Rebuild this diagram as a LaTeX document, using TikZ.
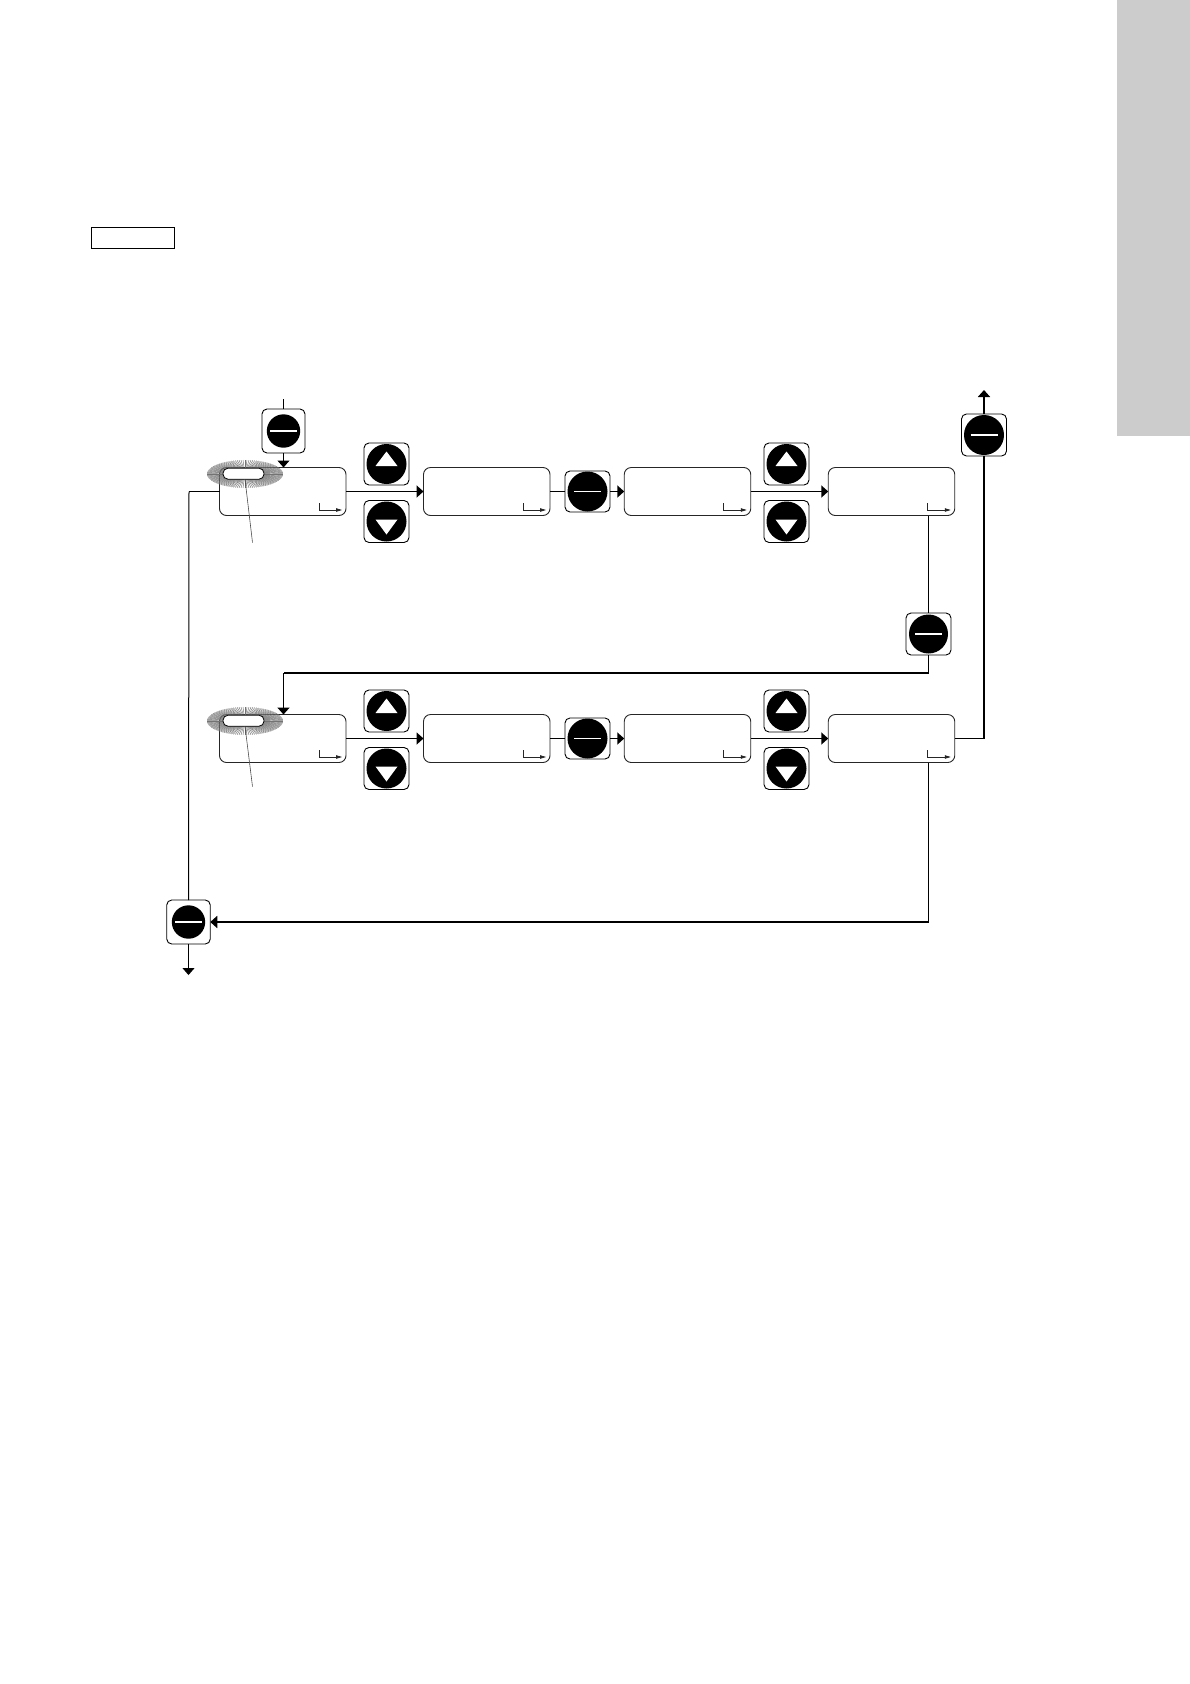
\documentclass[tikz,border=0pt]{standalone}
\usetikzlibrary{arrows.meta}
\begin{document}
\begin{tikzpicture}[x=1pt,y=-1pt,
  tip/.style={-{Triangle[length=7pt,width=12pt]}},
  thk/.style={line width=1.8pt},
  thn/.style={line width=1pt},
  disp/.style={draw=black!85, line width=0.9pt, rounded corners=7pt,
    minimum width=126.5pt, minimum height=48pt, inner sep=0pt, outer sep=0pt,
    path picture={\draw[sharp corners, line width=0.8pt, -{Triangle[length=6pt,width=3.5pt]}]
      ([shift={(-27,-12.5)}]path picture bounding box.south east) --
      ([shift={(-27,-5.5)}]path picture bounding box.south east) --
      ([shift={(-4,-5.5)}]path picture bounding box.south east);}},
  btnbox/.style={draw, line width=0.9pt, rounded corners=5pt,
    minimum width=45pt, minimum height=42pt, inner sep=0pt, outer sep=0pt},
  upbtn/.style={btnbox, path picture={
    \fill[black] (path picture bounding box.center) circle (20pt);
    \fill[white, sharp corners] ([shift={(0,-12.5)}]path picture bounding box.center) --
      ([shift={(-11,2)}]path picture bounding box.center) --
      ([shift={(11,2)}]path picture bounding box.center) -- cycle;}},
  dnbtn/.style={btnbox, path picture={
    \fill[black] (path picture bounding box.center) circle (20pt);
    \fill[white, sharp corners] ([shift={(0,13)}]path picture bounding box.center) --
      ([shift={(-11,-2)}]path picture bounding box.center) --
      ([shift={(11,-2)}]path picture bounding box.center) -- cycle;}},
  minusbtn/.style={btnbox, path picture={
    \fill[black] (path picture bounding box.center) circle (#1);
    \draw[white, line width=1.4pt] ([xshift=-13.5pt]path picture bounding box.center) --
      ([xshift=13.5pt]path picture bounding box.center);}},
  minusbtn/.default=20pt,
  blinkrect/.style={draw, fill=white, line width=0.8pt, rounded corners=5pt,
    minimum width=41pt, minimum height=11pt, inner sep=0pt, outer sep=0pt},
  ray/.style={draw=black!55, line width=0.45pt},
  leader/.style={draw=black!70, line width=0.6pt}
]
\useasboundingbox (0,0) rectangle (1190,1684);
% side tab
\fill[gray!40] (1117,0) rectangle (1190,436);
% small label frame
\node[draw, line width=1.2pt, minimum width=83pt, minimum height=21pt, inner sep=0pt] (lbl) at (132.75,238) {};

% display boxes
\node[disp] (b1) at (282.75,491.5) {};
\node[disp] (b2) at (486.75,491.5) {};
\node[disp] (b3) at (687.5,491.5) {};
\node[disp] (b4) at (891.5,491.5) {};
\node[disp] (b5) at (282.75,738.5) {};
\node[disp] (b6) at (486.75,738.5) {};
\node[disp] (b7) at (687.5,738.5) {};
\node[disp] (b8) at (891.5,738.5) {};

% up/down buttons
\node[upbtn] (u1) at (386.5,464) {};
\node[dnbtn] (d1) at (386.5,521.5) {};
\node[upbtn] (u2) at (786.5,464) {};
\node[dnbtn] (d2) at (786.5,521.5) {};
\node[upbtn] (u3) at (386.5,711) {};
\node[dnbtn] (d3) at (386.5,768.5) {};
\node[upbtn] (u4) at (786.5,711) {};
\node[dnbtn] (d4) at (786.5,768.5) {};

% minus buttons
\node[minusbtn, minimum height=41pt] (m1) at (587.5,491.5) {};
\node[minusbtn, minimum height=41pt] (m2) at (587.5,738.5) {};
\node[minusbtn=16.7pt, minimum width=43pt, minimum height=44pt] (bt0) at (283.5,431) {};
\node[minusbtn=19.5pt] (bt5) at (928.5,634) {};
\node[minusbtn] (bt4) at (984,435) {};
\node[minusbtn=16.7pt, minimum width=43.5pt, minimum height=44pt] (bt9) at (188.5,922) {};

% coordinates
\coordinate (in1) at (283.5,399);
\coordinate (c1) at (189,491.5);
\coordinate (c2) at (928.5,673);
\coordinate (c3) at (283.5,673);
\coordinate (c4) at (984,738.5);
\coordinate (out1) at (984,390);
\coordinate (c5) at (928.5,922);
\coordinate (out2) at (188.5,975);

% row 1 connectors
\draw[thn] (in1) -- (bt0.north);
\draw[thn, tip] (bt0.south) -- (bt0.south |- b1.north);
\draw[thk, tip] (b1.east) -- (b2.west);
\draw[thk] (b2.east) -- (m1.west);
\draw[thk, tip] (m1.east) -- (b3.west);
\draw[thk, tip] (b3.east) -- (b4.west);
\draw[thk] (b1.west) -- (c1);
\draw[thn] (c1) -- (bt9.north);

% feedback to row 2
\draw[thn] (bt5 |- b4.south) -- (bt5.north);
\draw[thn] (bt5.south) -- (c2);
\draw[thk] (c2) -- (c3);
\draw[thk, tip] (c3) -- (c3 |- b5.north);

% row 2 connectors
\draw[thk, tip] (b5.east) -- (b6.west);
\draw[thk] (b6.east) -- (m2.west);
\draw[thk, tip] (m2.east) -- (b7.west);
\draw[thk, tip] (b7.east) -- (b8.west);

% exits
\draw[thk] (b8.east) -- (c4) -- (bt4.south);
\draw[thk, tip] (bt4.north) -- (out1);
\draw[thn] (c5 |- b8.south) -- (c5);
\draw[thk, tip] (c5) -- (bt9.east);
\draw[thn, tip] (bt9.south) -- (out2);

% blinking segments
\foreach \a in {0,3,...,357} \draw[ray] (245,474) -- ++(\a:38 and 14);
\foreach \a in {0,3,...,357} \draw[ray] (245,721) -- ++(\a:38 and 14);
\node[blinkrect] (w1) at (243.5,473.7) {};
\node[blinkrect] (w2) at (243.5,720.7) {};
\coordinate (l1) at (252.5,542.5);
\coordinate (l2) at (252.5,786.5);
\draw[leader] ([xshift=1.5pt]w1.south) -- (l1);
\draw[leader] ([xshift=1.5pt]w2.south) -- (l2);
\end{tikzpicture}
\end{document}
